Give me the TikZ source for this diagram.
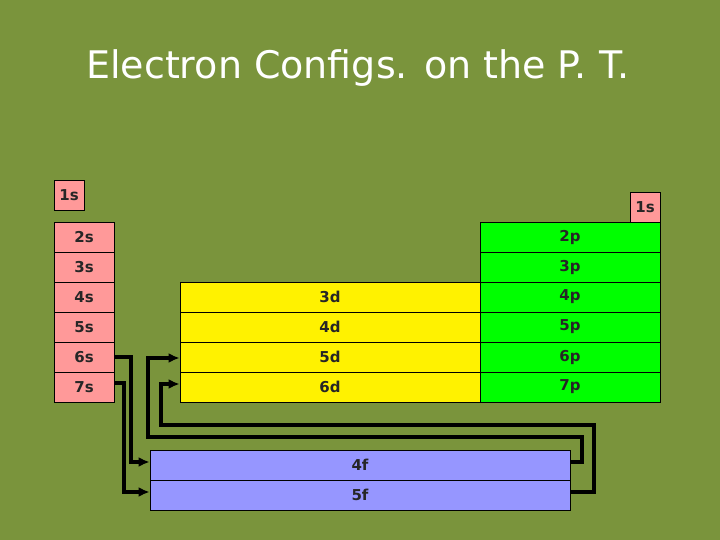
\documentclass[tikz,border=0pt]{standalone}
\usepackage{fontspec}
\setmainfont{DejaVu Sans}
\usetikzlibrary{arrows.meta}
\definecolor{bg}{RGB}{122,148,60}
\definecolor{pinkc}{RGB}{255,153,153}
\definecolor{bluec}{RGB}{150,150,255}
\begin{document}
\begin{tikzpicture}[x=1pt,y=-1pt,
  cell/.style={draw=black,line width=0.8pt,minimum height=30pt,inner sep=0pt,font=\bfseries\fontsize{15}{17}\selectfont,text=black!85},
  sbox/.style={cell,fill=pinkc,minimum width=60pt},
  pbox/.style={cell,fill=green,minimum width=180pt},
  dbox/.style={cell,fill=yellow,minimum width=300pt},
  fbox/.style={cell,fill=bluec,minimum width=420pt},
  conn/.style={line width=4pt,-{Latex[length=11pt,width=10pt]}}]
\fill[bg] (0,0) rectangle (720,540);
\useasboundingbox (0,0) rectangle (720,540);
\node[text=white,font=\fontsize{38}{42}\selectfont] (title) at (358,68) {Electron Configs. on the P. T.};
\node[sbox,minimum width=30pt] (s1) at (69,195) {1s};
\node[sbox,minimum width=30pt] (s1r) at (645,207) {1s};
\foreach \n [count=\i] in {2,...,7}{
  \node[sbox] (s\n) at (84,207+30*\i) {\n s};
  \node[pbox] (p\n) at (570,207+30*\i) {\n p};
}
\foreach \n [count=\i] in {3,...,6}{
  \node[dbox] (d\n) at (330,267+30*\i) {\n d};
}
\node[fbox] (f4) at (360,465) {4f};
\node[fbox] (f5) at (360,495) {5f};
\draw[conn] (s6.east|-0,357) -| (131,462) -- (f4.west|-0,462);
\draw[conn] (s7.east|-0,383) -| (124,492) -- (f5.west|-0,492);
\draw[conn] (f4.east|-0,462) -| (582,437) -| (148,358) -- (d5.west|-0,358);
\draw[conn] (f5.east|-0,492) -| (594,425) -| (161,384) -- (d6.west|-0,384);
\end{tikzpicture}
\end{document}
